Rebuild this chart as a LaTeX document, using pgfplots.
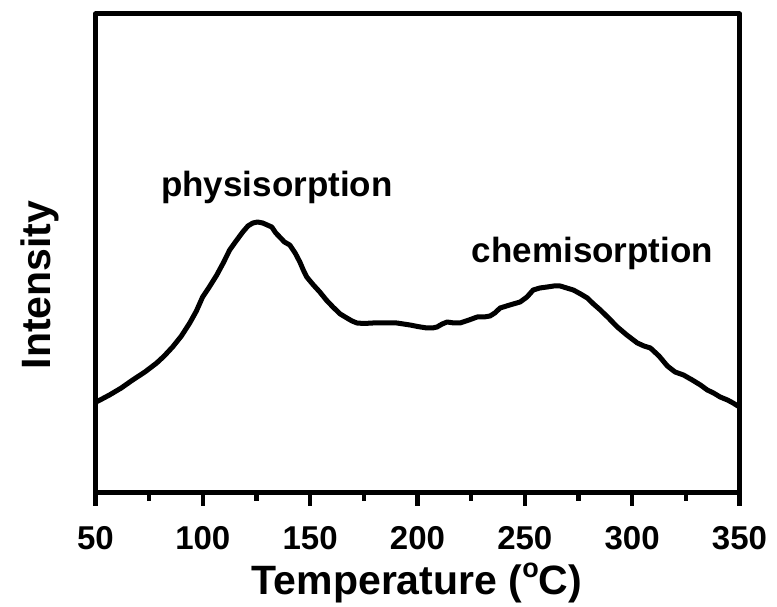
\documentclass[border=0pt]{standalone}
\usepackage{fontspec}
\setmainfont{Liberation Sans}
\usepackage{pgfplots}
\pgfplotsset{compat=1.18}
\begin{document}
\begin{tikzpicture}
\begin{axis}[
  at={(0pt,0pt)}, anchor=origin,
  scale only axis,
  width=644pt, height=479pt,
  xmin=50, xmax=350, ymin=0, ymax=479,
  axis line style={line width=5pt, line join=round},
  xtick={50,100,...,350},
  minor xtick={75,125,...,325},
  ytick=\empty,
  xtick pos=bottom,
  tick align=outside,
  major tick length=13pt,
  minor tick length=8pt,
  tick style={black, line width=4.5pt},
  every tick/.style={black, line width=4.5pt},
  every major tick/.append style={black, line width=4.5pt},
  every minor tick/.append style={black, line width=4.5pt},
  /pgf/number format/assume math mode=true,
  xticklabel style={font=\fontsize{33}{33}\selectfont\bfseries, anchor=base, yshift=-44pt},
  clip=false,
]
\addplot[black, line width=5pt, line join=round, line cap=round] coordinates {
(50,89) (50.3,91) (53,94) (56.5,98) (62,105) (67.3,113) (73,121) (78.5,130) (82,137) (85.9,146)
(90,157) (93.9,170) (97,182) (99.9,196) (103,206) (106.5,218) (109.5,230) (112.5,243) (115.5,252)
(118.6,261) (121,267) (123.3,270) (125.5,271) (127.9,270) (130,268) (132.1,266) (134,260) (135.8,256)
(138,251) (140.5,248) (143,240) (145.2,231) (146.8,223) (148.4,216) (151.5,208) (154.5,201)
(157.5,193) (160.6,186) (164,179) (167.1,175) (169.5,172) (171.8,170) (175,169.5) (179.2,170)
(185,170) (190.4,170) (196.5,168) (200,166.5) (204.4,165) (207,165) (209.1,166) (211.5,169)
(213.8,171) (217,170) (219.8,170) (224,173) (227.8,176) (231,176) (233.8,177) (236,180) (238.5,185)
(243,188) (247.8,191) (251,196) (253.9,203) (257,205) (260.4,206) (263.5,207) (266.5,207)
(269.5,205) (272.6,203) (276,199) (279.1,195) (282,189) (285.2,183) (289,175) (293.1,166)
(297.5,158) (302.4,150) (305.5,147) (308.5,145) (312.5,137) (316.4,127) (320,121) (323.9,118)
(328,113) (331.8,108) (335,103) (337.9,100) (341,96) (344.4,93) (347,90) (350,86)
};
\node[font=\fontsize{35}{35}\selectfont\bfseries, anchor=base] at (axis cs:134.5,296) {physisorption};
\node[font=\fontsize{35}{35}\selectfont\bfseries, anchor=base] at (axis cs:281.5,230) {chemisorption};
\end{axis}
\node[font=\fontsize{41}{41}\selectfont\bfseries, anchor=base] at (321.5pt,-102pt) {Temperature (\raisebox{0.42em}{\fontsize{27}{27}\selectfont o}C)};
\node[font=\fontsize{41}{41}\selectfont\bfseries, anchor=base, rotate=90] at (-45pt,208pt) {Intensity};
\useasboundingbox (-95.5pt,-110pt) rectangle (681.5pt,493pt);
\end{tikzpicture}
\end{document}
